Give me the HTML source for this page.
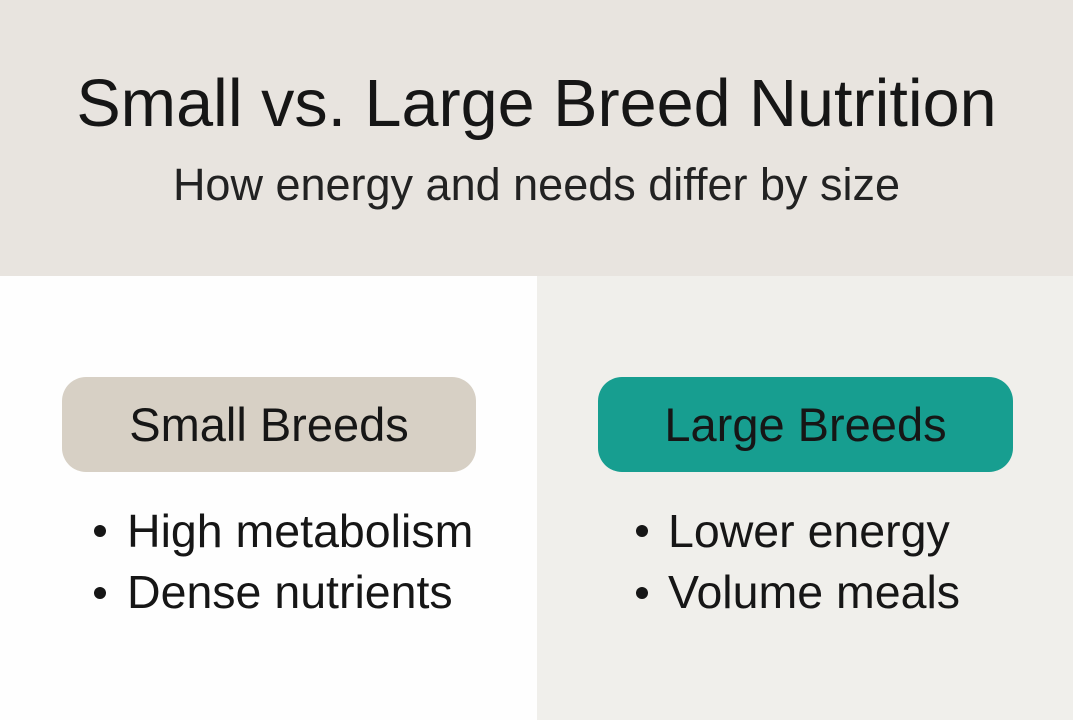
<!DOCTYPE html>
<html><head><meta charset="utf-8"><style>
html,body{margin:0;padding:0;width:1073px;height:720px;overflow:hidden;font-family:"Liberation Sans","DejaVu Sans",sans-serif;color:#161616}
.hdr{position:absolute;left:0;top:0;width:1073px;height:276px;background:#e8e4df}
.l{position:absolute;left:0;top:276px;width:537px;height:444px;background:#fefefe}
.r{position:absolute;left:537px;top:276px;width:536px;height:444px;background:#f0efeb}
.t{position:absolute;left:0;width:1073px;text-align:center;white-space:nowrap}
.pill{position:absolute;top:377px;height:95px;border-radius:24px;text-align:center;line-height:95px;font-size:47px}
.b{position:absolute;font-size:46.5px;white-space:nowrap;line-height:56px}
.d{position:absolute;width:12px;height:12px;border-radius:50%;background:#161616}
</style></head><body>
<div class="hdr"></div><div class="l"></div><div class="r"></div>
<div class="t" style="top:64px;font-size:66.5px;line-height:80px">Small vs. Large Breed Nutrition</div>
<div class="t" style="top:158px;font-size:45px;line-height:54px;color:#222">How energy and needs differ by size</div>
<div class="pill" style="left:62px;width:414px;background:#d7d0c5">Small Breeds</div>
<div class="pill" style="left:598px;width:415px;background:#179e90">Large Breeds</div>
<div class="d" style="left:94px;top:525px"></div><div class="b" style="left:127px;top:503px">High metabolism</div>
<div class="d" style="left:94px;top:587px"></div><div class="b" style="left:127px;top:564px">Dense nutrients</div>
<div class="d" style="left:636px;top:525px"></div><div class="b" style="left:668px;top:503px">Lower energy</div>
<div class="d" style="left:636px;top:587px"></div><div class="b" style="left:668px;top:564px">Volume meals</div>
</body></html>
